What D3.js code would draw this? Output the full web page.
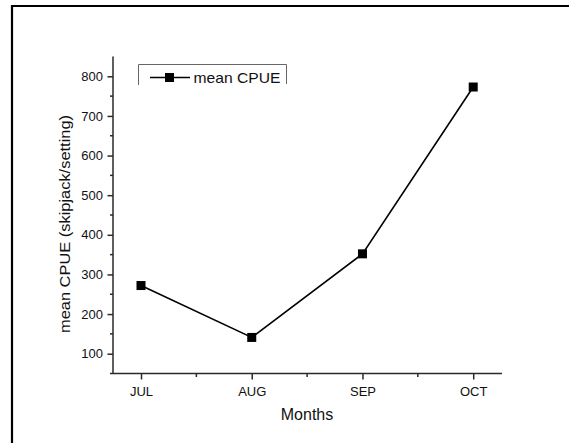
<!DOCTYPE html>
<html><head><meta charset="utf-8">
<script src="https://cdn.jsdelivr.net/npm/d3@7"></script>
<style>body{margin:0;background:#fff}svg{display:block}text{font-family:"Liberation Sans",Arial,sans-serif;fill:#111}</style>
</head><body>
<svg id="c" width="569" height="443"></svg>
<script>
const months = ["JUL","AUG","SEP","OCT"];
const cpue = [272, 141, 352, 773];
const yTicks = [100,200,300,400,500,600,700,800];
const yMinor = [150,250,350,450,550,650,750];
const xMinor = [1.5,2.5,3.5];
const seriesName = "mean CPUE";

const svg = d3.select("#c");
// outer frame (top and left edges visible)
svg.append("path").attr("d","M12,443 L12,6 L569,6").attr("fill","none").attr("stroke","#000").attr("stroke-width",2.2);

const x = d3.scaleLinear().domain([0.72,4.26]).range([110,502]);
const y = d3.scaleLinear().domain([50,850]).range([373.5,56.5]);
const axCol = "#2a2a2a";

// X axis
const gx = svg.append("g").attr("transform","translate(0,373.5)");
gx.call(d3.axisBottom(x).tickValues(d3.range(1,months.length+1)).tickSize(6).tickPadding(7).tickFormat((d,i)=>months[i]));
gx.call(g=>g.select(".domain").attr("d",`M110,0H502`));
gx.attr("font-size",null);
gx.selectAll("text").style("font-size","13px").attr("fill","#111");
gx.selectAll("line,path").attr("stroke",axCol).attr("stroke-width",1.5);
gx.selectAll(".minor").data(xMinor).enter().append("line").attr("class","minor")
  .attr("x1",d=>x(d)).attr("x2",d=>x(d)).attr("y1",0).attr("y2",3.5).attr("stroke",axCol).attr("stroke-width",1.5);

// Y axis
const gy = svg.append("g").attr("transform","translate(113,0)");
gy.call(d3.axisLeft(y).tickValues(yTicks).tickSize(5.5).tickPadding(4.5));
gy.call(g=>g.select(".domain").attr("d",`M0,${y(850)}V${y(50)}`));
gy.attr("font-size",null);
gy.selectAll("text").style("font-size","13px").attr("fill","#111");
gy.selectAll("line,path").attr("stroke",axCol).attr("stroke-width",1.5);
gy.selectAll(".minor").data(yMinor).enter().append("line").attr("class","minor")
  .attr("x1",0).attr("x2",-3).attr("y1",d=>y(d)).attr("y2",d=>y(d)).attr("stroke",axCol).attr("stroke-width",1.5);

// Axis titles
svg.append("text").attr("x",307).attr("y",420).attr("text-anchor","middle").style("font-size","16px").text("Months");
const yl = svg.append("text").attr("transform","translate(70,224) rotate(-90)").attr("text-anchor","middle")
  .style("font-size","14.5px").text("mean CPUE (skipjack/setting)");
yl.attr("textLength",218).attr("lengthAdjust","spacingAndGlyphs");

// Line + markers
const line = d3.line().x((d,i)=>x(i+1)).y(d=>y(d));
svg.append("path").datum(cpue).attr("d",line).attr("fill","none").attr("stroke","#000").attr("stroke-width",1.6);
svg.selectAll(".pt").data(cpue).enter().append("rect").attr("class","pt")
  .attr("x",(d,i)=>x(i+1)-4.5).attr("y",d=>y(d)-4.5).attr("width",9).attr("height",9).attr("fill","#000");

// Legend (frame partially visible)
const lg = svg.append("g");
lg.append("path").attr("d","M138.5,85 V64.5 H286.5 V84").attr("fill","none").attr("stroke","#666").attr("stroke-width",1);
lg.append("line").attr("x1",150).attr("x2",190).attr("y1",77.5).attr("y2",77.5).attr("stroke","#000").attr("stroke-width",1.6);
lg.append("rect").attr("x",165).attr("y",73).attr("width",9).attr("height",9).attr("fill","#000");
lg.append("text").attr("x",193.5).attr("y",82.5).style("font-size","14.5px").attr("textLength",87).attr("lengthAdjust","spacingAndGlyphs").text(seriesName);
</script>
</body></html>
